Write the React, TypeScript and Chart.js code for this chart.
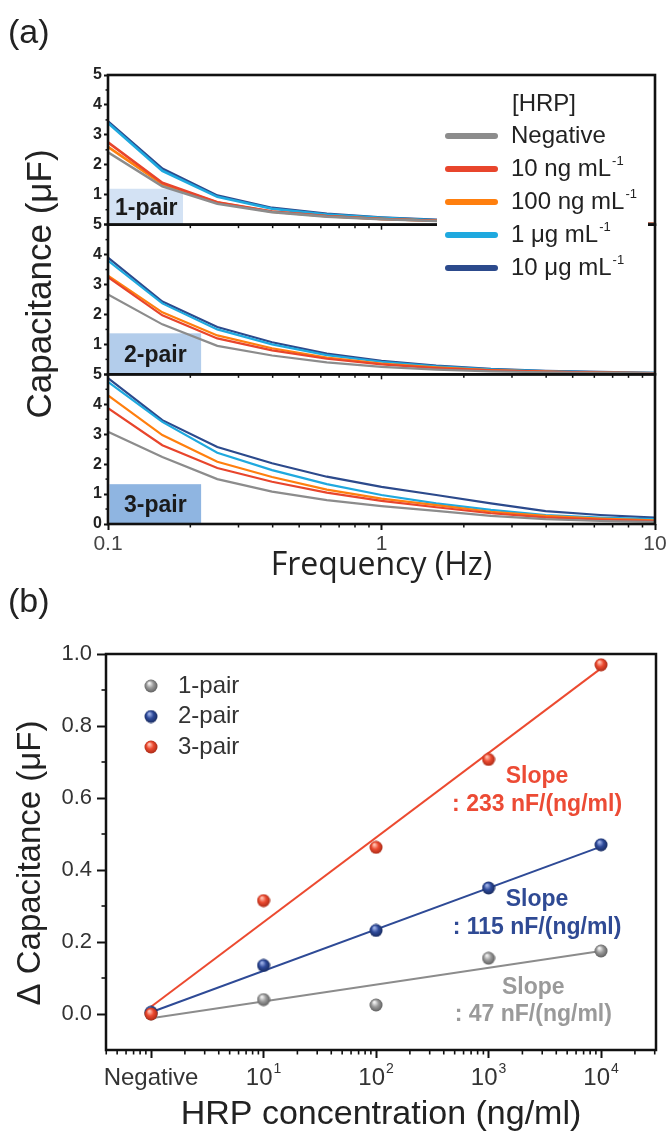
import React, { useEffect, useRef } from "react";
import { Chart, registerables } from "chart.js";

Chart.register(...registerables);

// ---------------- Panel (a) data ----------------
const FREQ_HZ = [0.1, 0.158, 0.251, 0.398, 0.631, 1, 1.585, 2.512, 3.981, 6.31, 10];

const CONC_NAMES = ["Negative", "10 ng mL", "100 ng mL", "1 μg mL", "10 μg mL"];
const CONC_SUP = ["", "-1", "-1", "-1", "-1"];
const CONC_COLORS = ["#8c8c8c", "#e8452c", "#ff7f0e", "#1fa9df", "#2c4a8c"];
const LEGEND_TITLE = "[HRP]";

// 1-pair
const PAIR1_NEG = [2.42, 1.28, 0.7, 0.42, 0.27, 0.18, 0.12, 0.08, 0.05, 0.03, 0.02];
const PAIR1_10NG = [2.75, 1.4, 0.75, 0.44, 0.29, 0.19, 0.13, 0.09, 0.06, 0.04, 0.03];
const PAIR1_100NG = [2.6, 1.36, 0.74, 0.43, 0.28, 0.19, 0.13, 0.09, 0.06, 0.04, 0.03];
const PAIR1_1UG = [3.4, 1.8, 0.93, 0.53, 0.34, 0.23, 0.15, 0.1, 0.07, 0.05, 0.03];
const PAIR1_10UG = [3.45, 1.87, 0.97, 0.56, 0.36, 0.24, 0.16, 0.11, 0.07, 0.05, 0.03];
// 2-pair
const PAIR2_NEG = [2.67, 1.67, 0.95, 0.63, 0.4, 0.25, 0.16, 0.1, 0.07, 0.05, 0.03];
const PAIR2_10NG = [3.25, 1.97, 1.2, 0.8, 0.52, 0.33, 0.21, 0.13, 0.09, 0.06, 0.04];
const PAIR2_100NG = [3.3, 2.07, 1.3, 0.87, 0.56, 0.36, 0.23, 0.14, 0.09, 0.06, 0.04];
const PAIR2_1UG = [3.8, 2.37, 1.5, 1.0, 0.64, 0.42, 0.27, 0.17, 0.11, 0.07, 0.05];
const PAIR2_10UG = [3.9, 2.43, 1.58, 1.07, 0.69, 0.45, 0.29, 0.18, 0.12, 0.08, 0.05];
// 3-pair
const PAIR3_NEG = [3.08, 2.24, 1.5, 1.08, 0.8, 0.6, 0.44, 0.27, 0.16, 0.1, 0.07];
const PAIR3_10NG = [3.87, 2.63, 1.87, 1.41, 1.05, 0.77, 0.56, 0.36, 0.22, 0.15, 0.1];
const PAIR3_100NG = [4.3, 2.97, 2.08, 1.57, 1.15, 0.85, 0.63, 0.41, 0.27, 0.18, 0.12];
const PAIR3_1UG = [4.75, 3.41, 2.38, 1.8, 1.33, 0.97, 0.69, 0.47, 0.3, 0.21, 0.16];
const PAIR3_10UG = [4.87, 3.47, 2.57, 2.03, 1.58, 1.24, 0.97, 0.69, 0.43, 0.3, 0.21];

const PAIR_NAMES = ["1-pair", "2-pair", "3-pair"];
const PAIR_BOX_COLORS = ["#d3e2f4", "#b3cdeb", "#8fb5e1"];
const PAIR_BOX_XMAX = [0.188, 0.219, 0.219];
const PAIR_BOX_YMAX = [1.2, 1.37, 1.33];

const A_Y_TICKS = [0, 1, 2, 3, 4, 5];
const A_Y_MINOR = [0.5, 1.5, 2.5, 3.5, 4.5];
const A_X_TICKS = [0.1, 1, 10];
const A_X_LABELS = ["0.1", "1", "10"];
const A_X_MINOR = [0.2, 0.3, 0.4, 0.5, 0.6, 0.7, 0.8, 0.9, 2, 3, 4, 5, 6, 7, 8, 9];
const A_Y_TITLE = "Capacitance (μF)";
const A_X_TITLE = "Frequency (Hz)";

// ---------------- Panel (b) data ----------------
const B_CONC = [1, 10, 100, 1000, 10000]; // "Negative" plotted at 10^0
const B_PAIR1 = [0.0, 0.04, 0.025, 0.155, 0.175];
const B_PAIR2 = [0.005, 0.135, 0.232, 0.35, 0.47];
const B_PAIR3 = [0.0, 0.315, 0.463, 0.707, 0.97];
const FIT_X = [1, 10000];
const FIT_PAIR1 = [-0.012, 0.175];
const FIT_PAIR2 = [0.005, 0.465];
const FIT_PAIR3 = [0.02, 0.96];

const B_SERIES_NAMES = ["1-pair", "2-pair", "3-pair"];
const B_COLORS = ["#8c8c8c", "#2e4a96", "#ec4a30"];
const B_BALL = [
  ["#f0f0f0", "#9a9a9a", "#5a5a5a"],
  ["#9db0e6", "#2e4a9a", "#16285a"],
  ["#ffc0b0", "#ec4a30", "#a42814"],
];
const B_TEXT_COLORS = ["#9a9a9a", "#2f4a94", "#ec4b35"];
const SLOPE_TITLE = "Slope";
const SLOPE_VALUES = [": 47 nF/(ng/ml)", ": 115 nF/(ng/ml)", ": 233 nF/(ng/ml)"];
const SLOPE_X = [2500, 2700, 2700];
const SLOPE_TITLE_Y = [0.072, 0.317, 0.658];
const SLOPE_VALUE_Y = [-0.003, 0.239, 0.581];

const B_X_TICKS = [1, 10, 100, 1000, 10000];
const B_X_BASE = ["Negative", "10", "10", "10", "10"];
const B_X_SUP = ["", "1", "2", "3", "4"];
const B_X_MINOR = [
  0.4, 0.5, 0.6, 0.7, 0.8, 0.9, 2, 3, 4, 5, 6, 7, 8, 9, 20, 30, 40, 50, 60, 70, 80, 90,
  200, 300, 400, 500, 600, 700, 800, 900, 2000, 3000, 4000, 5000, 6000, 7000, 8000, 9000,
  20000, 30000,
];
const B_Y_TICKS = [0, 0.2, 0.4, 0.6, 0.8, 1.0];
const B_Y_LABELS = ["0.0", "0.2", "0.4", "0.6", "0.8", "1.0"];
const B_Y_MINOR = [0.1, 0.3, 0.5, 0.7, 0.9];
const B_Y_TITLE = "Δ Capacitance (μF)";
const B_X_TITLE = "HRP concentration (ng/ml)";

const FONT = "'Liberation Sans', Arial, sans-serif";
const NARROW = "'Liberation Sans Narrow', 'Liberation Sans', Arial, sans-serif";

function pts(xs: number[], ys: number[]) {
  return xs.map((x, i) => ({ x, y: ys[i] }));
}

function makeBall(cols: string[], size = 14) {
  const c = document.createElement("canvas");
  c.width = size;
  c.height = size;
  const g = c.getContext("2d")!;
  const r = size / 2;
  const grad = g.createRadialGradient(r * 0.75, r * 0.6, r * 0.1, r, r, r);
  grad.addColorStop(0, cols[0]);
  grad.addColorStop(0.45, cols[1]);
  grad.addColorStop(1, cols[2]);
  g.fillStyle = grad;
  g.beginPath();
  g.arc(r, r, r - 0.5, 0, Math.PI * 2);
  g.fill();
  return c;
}

function line(ctx: CanvasRenderingContext2D, x1: number, y1: number, x2: number, y2: number) {
  ctx.beginPath();
  ctx.moveTo(x1, y1);
  ctx.lineTo(x2, y2);
  ctx.stroke();
}

function textSup(
  ctx: CanvasRenderingContext2D,
  x: number,
  y: number,
  base: string,
  sup: string,
  size: number,
  supSize: number,
  rise: number,
  align: "left" | "center"
) {
  ctx.font = `${size}px ${FONT}`;
  const wb = ctx.measureText(base).width;
  ctx.font = `${supSize}px ${FONT}`;
  const ws = sup ? ctx.measureText(sup).width + 1 : 0;
  const x0 = align === "center" ? x - (wb + ws) / 2 : x;
  ctx.textAlign = "left";
  ctx.font = `${size}px ${FONT}`;
  ctx.fillText(base, x0, y);
  if (sup) {
    ctx.font = `${supSize}px ${FONT}`;
    ctx.fillText(sup, x0 + wb + 1, y - rise);
  }
}

const PAIR_SERIES = [
  [PAIR1_NEG, PAIR1_10NG, PAIR1_100NG, PAIR1_1UG, PAIR1_10UG],
  [PAIR2_NEG, PAIR2_10NG, PAIR2_100NG, PAIR2_1UG, PAIR2_10UG],
  [PAIR3_NEG, PAIR3_10NG, PAIR3_100NG, PAIR3_1UG, PAIR3_10UG],
];
const PAIR_AXES = ["yTop", "yMid", "yBot"];

function yAxisA(showZero: boolean) {
  return {
    type: "linear",
    position: "left",
    stack: "pairs",
    stackWeight: 1,
    min: 0,
    max: 5,
    afterBuildTicks: (s: any) => {
      s.ticks = A_Y_TICKS.map((v) => ({ value: v }));
    },
    afterFit: (s: any) => {
      s.width = 30;
    },
    border: { display: false },
    grid: { drawOnChartArea: false, drawTicks: true, tickLength: 4, tickWidth: 2, tickColor: "#111" },
    ticks: {
      autoSkip: false,
      font: { family: NARROW, size: 16, weight: "bold" },
      color: "#222",
      padding: 2,
      callback: (v: any) => (v === 0 && !showZero ? "" : String(v)),
    },
  };
}

const panelAPlugin = {
  id: "panelA",
  beforeDatasetsDraw(chart: any) {
    const ctx: CanvasRenderingContext2D = chart.ctx;
    const x = chart.scales.x;
    ctx.save();
    PAIR_AXES.forEach((id, i) => {
      const ys = chart.scales[id];
      const x0 = x.getPixelForValue(0.1) + 1.5;
      const x1 = x.getPixelForValue(PAIR_BOX_XMAX[i]);
      const y0 = ys.getPixelForValue(PAIR_BOX_YMAX[i]);
      const y1 = ys.getPixelForValue(0);
      ctx.fillStyle = PAIR_BOX_COLORS[i];
      ctx.fillRect(x0, y0, x1 - x0, y1 - y0);
      ctx.fillStyle = "#1a1a1a";
      ctx.font = `bold 23px ${FONT}`;
      ctx.textAlign = "center";
      ctx.textBaseline = "middle";
      ctx.fillText(PAIR_NAMES[i], (x0 + x1) / 2, (y0 + y1) / 2 + 2);
    });
    ctx.restore();
  },
  afterDraw(chart: any) {
    const ctx: CanvasRenderingContext2D = chart.ctx;
    const ca = chart.chartArea;
    const x = chart.scales.x;
    ctx.save();
    ctx.strokeStyle = "#111";
    // frames
    ctx.lineWidth = 2.6;
    PAIR_AXES.forEach((id) => {
      const ys = chart.scales[id];
      ctx.strokeRect(ca.left, ys.top, ca.right - ca.left, ys.bottom - ys.top);
    });
    // minor ticks
    ctx.lineWidth = 1.5;
    PAIR_AXES.forEach((id, i) => {
      const ys = chart.scales[id];
      A_Y_MINOR.forEach((v) => {
        const py = ys.getPixelForValue(v);
        line(ctx, ca.left - 2.5, py, ca.left, py);
      });
      A_X_MINOR.forEach((v) => {
        const px = x.getPixelForValue(v);
        line(ctx, px, ys.bottom, px, ys.bottom + 3.5);
      });
      if (i < 2) {
        A_X_TICKS.forEach((v) => {
          const px = x.getPixelForValue(v);
          line(ctx, px, ys.bottom, px, ys.bottom + 5);
        });
      }
    });
    // legend
    ctx.fillStyle = "#fff";
    ctx.fillRect(437, 86, 211, 198);
    ctx.fillStyle = "#222";
    ctx.textBaseline = "middle";
    ctx.font = `24px ${FONT}`;
    ctx.textAlign = "left";
    ctx.fillText(LEGEND_TITLE, 512, 104);
    CONC_NAMES.forEach((name, i) => {
      const yy = 136 + i * 33;
      ctx.strokeStyle = CONC_COLORS[i];
      ctx.lineWidth = 6;
      ctx.lineCap = "round";
      line(ctx, 448, yy, 495, yy);
      ctx.fillStyle = "#222";
      textSup(ctx, 511, yy, name, CONC_SUP[i], 24, 13, 8, "left");
    });
    // panel label & titles
    ctx.fillStyle = "#222";
    ctx.textAlign = "left";
    ctx.font = `34px ${FONT}`;
    ctx.fillText("(a)", 8, 34);
    ctx.textAlign = "center";
    ctx.font = `32px 'Open Sans', ${FONT}`;
    ctx.fillText(A_X_TITLE, (ca.left + ca.right) / 2, 566);
    ctx.translate(41, 284);
    ctx.rotate(-Math.PI / 2);
    ctx.font = `35px ${FONT}`;
    ctx.fillText(A_Y_TITLE, 0, 0);
    ctx.restore();
  },
};

const panelBPlugin = {
  id: "panelB",
  afterDraw(chart: any) {
    const ctx: CanvasRenderingContext2D = chart.ctx;
    const ca = chart.chartArea;
    const x = chart.scales.x;
    const y = chart.scales.y;
    ctx.save();
    ctx.strokeStyle = "#111";
    ctx.lineWidth = 2.5;
    ctx.strokeRect(ca.left, ca.top, ca.right - ca.left, ca.bottom - ca.top);
    ctx.lineWidth = 1.6;
    B_X_MINOR.forEach((v) => {
      const px = x.getPixelForValue(v);
      line(ctx, px, ca.bottom, px, ca.bottom + 4.5);
    });
    B_Y_MINOR.forEach((v) => {
      const py = y.getPixelForValue(v);
      line(ctx, ca.left - 4.5, py, ca.left, py);
    });
    // x tick labels
    ctx.fillStyle = "#333";
    ctx.textBaseline = "middle";
    B_X_TICKS.forEach((v, i) => {
      textSup(ctx, x.getPixelForValue(v), ca.bottom + 28, B_X_BASE[i], B_X_SUP[i], 24, 14, 9, "center");
    });
    // legend
    B_SERIES_NAMES.forEach((name, i) => {
      const yy = ca.top + 32 + i * 30.5;
      const img = (chart as any).$balls[i];
      ctx.drawImage(img, ca.left + 45 - img.width / 2, yy - img.height / 2);
      ctx.fillStyle = "#333";
      ctx.font = `24px ${FONT}`;
      ctx.textAlign = "left";
      ctx.fillText(name, ca.left + 72, yy);
    });
    // slope annotations
    ctx.textAlign = "center";
    ctx.font = `bold 23px ${FONT}`;
    SLOPE_VALUES.forEach((val, i) => {
      ctx.fillStyle = B_TEXT_COLORS[i];
      const px = x.getPixelForValue(SLOPE_X[i]);
      ctx.fillText(SLOPE_TITLE, px, y.getPixelForValue(SLOPE_TITLE_Y[i]));
      ctx.fillText(val, px, y.getPixelForValue(SLOPE_VALUE_Y[i]));
    });
    // titles
    ctx.fillStyle = "#222";
    ctx.textAlign = "left";
    ctx.font = `34px ${FONT}`;
    ctx.fillText("(b)", 8, 33);
    ctx.textAlign = "center";
    ctx.font = `34px ${FONT}`;
    ctx.fillText(B_X_TITLE, (ca.left + ca.right) / 2, 545);
    ctx.translate(31, 293);
    ctx.rotate(-Math.PI / 2);
    ctx.font = `33px ${FONT}`;
    ctx.fillText(B_Y_TITLE, 0, 0);
    ctx.restore();
  },
};

export default function App() {
  const refA = useRef<HTMLCanvasElement>(null);
  const refB = useRef<HTMLCanvasElement>(null);

  useEffect(() => {
    const datasetsA: any[] = [];
    PAIR_SERIES.forEach((series, p) => {
      series.forEach((vals, c) => {
        datasetsA.push({
          type: "line",
          data: pts(FREQ_HZ, vals),
          yAxisID: PAIR_AXES[p],
          borderColor: CONC_COLORS[c],
          borderWidth: p === 0 ? 2.6 : 2.2,
          pointRadius: 0,
          tension: 0,
          fill: false,
        });
      });
    });

    const chartA = new Chart(refA.current!, {
      type: "line",
      data: { datasets: datasetsA },
      options: {
        responsive: false,
        animation: false,
        events: [],
        layout: { padding: { left: 78, right: 15, top: 75, bottom: 46 } },
        plugins: { legend: { display: false }, tooltip: { enabled: false } },
        scales: {
          x: {
            type: "logarithmic",
            min: 0.1,
            max: 10,
            position: "bottom",
            afterBuildTicks: (s: any) => {
              s.ticks = A_X_TICKS.map((v) => ({ value: v, major: true }));
            },
            afterFit: (s: any) => {
              s.height = 30;
            },
            border: { display: false },
            grid: { drawOnChartArea: false, tickLength: 6, tickWidth: 2, tickColor: "#111" },
            ticks: {
              font: { family: FONT, size: 21 },
              color: "#444",
              padding: 2,
              autoSkip: false,
              maxRotation: 0,
              callback: (_v: any, i: number) => A_X_LABELS[i],
            },
          },
          yBot: yAxisA(true),
          yMid: yAxisA(false),
          yTop: yAxisA(false),
        } as any,
      },
      plugins: [panelAPlugin],
    } as any);

    const balls = B_BALL.map((c) => makeBall(c, 14));
    const fitData = [FIT_PAIR1, FIT_PAIR2, FIT_PAIR3];
    const ptData = [B_PAIR1, B_PAIR2, B_PAIR3];
    const datasetsB: any[] = [];
    fitData.forEach((f, i) => {
      datasetsB.push({
        type: "line",
        data: pts(FIT_X, f),
        borderColor: B_COLORS[i],
        borderWidth: 2,
        pointRadius: 0,
        order: 10,
      });
    });
    ptData.forEach((d, i) => {
      datasetsB.push({
        type: "line",
        data: pts(B_CONC, d),
        showLine: false,
        pointStyle: balls[i],
        pointRadius: 7,
        order: 3 - i,
      });
    });

    const chartB: any = new Chart(refB.current!, {
      type: "line",
      data: { datasets: datasetsB },
      options: {
        responsive: false,
        animation: false,
        events: [],
        layout: { padding: { left: 56, right: 14, top: 84, bottom: 47 } },
        plugins: { legend: { display: false }, tooltip: { enabled: false } },
        scales: {
          x: {
            type: "logarithmic",
            min: 0.398,
            max: 30800,
            afterBuildTicks: (s: any) => {
              s.ticks = B_X_TICKS.map((v) => ({ value: v, major: true }));
            },
            afterFit: (s: any) => {
              s.height = 40;
            },
            border: { display: false },
            grid: { drawOnChartArea: false, tickLength: 8, tickWidth: 2, tickColor: "#111" },
            ticks: { display: false },
          },
          y: {
            type: "linear",
            min: -0.1,
            max: 1.0,
            afterBuildTicks: (s: any) => {
              s.ticks = B_Y_TICKS.map((v) => ({ value: v }));
            },
            afterFit: (s: any) => {
              s.width = 50;
            },
            border: { display: false },
            grid: { drawOnChartArea: false, tickLength: 9, tickWidth: 2, tickColor: "#111" },
            ticks: {
              autoSkip: false,
              font: { family: FONT, size: 22 },
              color: "#333",
              padding: 5,
              callback: (_v: any, i: number) => B_Y_LABELS[i],
            },
          },
        } as any,
      },
      plugins: [
        {
          id: "balls",
          beforeInit(c: any) {
            c.$balls = balls;
          },
        },
        panelBPlugin,
      ],
    } as any);

    return () => {
      chartA.destroy();
      chartB.destroy();
    };
  }, []);

  return (
    <div style={{ position: "absolute", left: 0, top: 0, width: 670, height: 1137, background: "#fff" }}>
      <canvas
        ref={refA}
        width={670}
        height={600}
        style={{ position: "absolute", left: 0, top: 0, width: 670, height: 600 }}
      />
      <canvas
        ref={refB}
        width={670}
        height={567}
        style={{ position: "absolute", left: 0, top: 570, width: 670, height: 567 }}
      />
    </div>
  );
}
